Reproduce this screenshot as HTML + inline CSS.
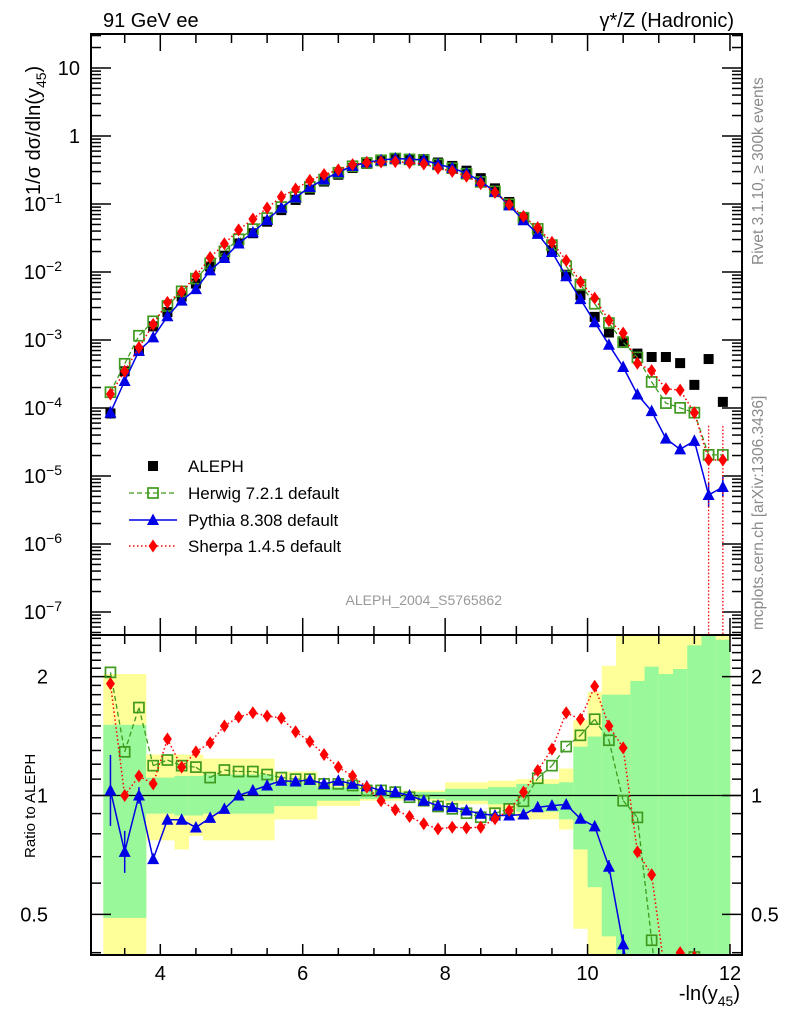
<!DOCTYPE html>
<html><head><meta charset="utf-8"><style>
html,body{margin:0;padding:0;background:#fff;width:786px;height:1024px;overflow:hidden;}
svg{display:block;font-family:"Liberation Sans",Arial,sans-serif;}
</style></head>
<body>
<svg id="chart" width="786" height="1024" viewBox="0 0 786 1024" xmlns="http://www.w3.org/2000/svg" overflow="hidden">
<defs>
<clipPath id="clipMain"><rect x="91" y="34" width="651" height="601"/></clipPath>
<clipPath id="clipRatio"><rect x="91" y="635" width="651" height="320"/></clipPath>
</defs>
<g id="bands" clip-path="url(#clipRatio)"></g>
<g id="ticks"></g>
<line x1="91" y1="795.5" x2="742" y2="795.5" stroke="#000" stroke-width="1.2"/>
<g id="mainSeries" clip-path="url(#clipMain)"></g>
<g id="ratioSeries" clip-path="url(#clipRatio)"></g>
<rect x="91" y="34" width="651" height="601" fill="none" stroke="#000" stroke-width="2"/>
<rect x="91" y="635" width="651" height="320" fill="none" stroke="#000" stroke-width="2"/>
<g id="labels" font-size="20"></g>
<text x="103" y="27" font-size="20">91 GeV ee</text>
<text x="734" y="27" font-size="20" text-anchor="end">γ*/Z (Hadronic)</text>
<text transform="translate(40,195) rotate(-90)" font-size="20">1/σ  dσ/dln(y<tspan font-size="14" dy="6">45</tspan><tspan dy="-6">)</tspan></text>
<text transform="translate(35,858) rotate(-90)" font-size="15">Ratio to ALEPH</text>
<text x="740" y="1000" font-size="20" text-anchor="end">-ln(y<tspan font-size="14" dy="6">45</tspan><tspan dy="-6">)</tspan></text>
<text transform="translate(763,265) rotate(-90)" font-size="15.5" fill="#8a8a8a">Rivet 3.1.10, ≥ 300k events</text>
<text transform="translate(763,630) rotate(-90)" font-size="15.5" fill="#8a8a8a">mcplots.cern.ch [arXiv:1306.3436]</text>
<text x="502" y="605" font-size="14" fill="#999" text-anchor="end">ALEPH_2004_S5765862</text>
<g id="legend" font-size="17"></g>
</svg>
<script>
const xCenters = [3.3,3.5,3.7,3.9,4.1,4.3,4.5,4.7,4.9,5.1,5.3,5.5,5.7,5.9,6.1,6.3,6.5,6.7,6.9,7.1,7.3,7.5,7.7,7.9,8.1,8.3,8.5,8.7,8.9,9.1,9.3,9.5,9.7,9.9,10.1,10.3,10.5,10.7,10.9,11.1,11.3,11.5,11.7,11.9];
const alephLog10 = [-4.08,-3.46,-3.16,-2.80,-2.59,-2.36,-2.17,-1.92,-1.76,-1.58,-1.43,-1.26,-1.09,-0.94,-0.79,-0.67,-0.57,-0.47,-0.41,-0.37,-0.34,-0.34,-0.34,-0.39,-0.44,-0.51,-0.62,-0.77,-0.97,-1.19,-1.41,-1.68,-2.04,-2.34,-2.66,-2.89,-3.02,-3.20,-3.25,-3.25,-3.34,-3.66,-3.28,-3.91];
const herwigRatio = [2.05,1.29,1.67,1.19,1.23,1.19,1.18,1.11,1.16,1.15,1.15,1.13,1.11,1.10,1.10,1.07,1.07,1.06,1.03,1.03,1.02,0.99,0.97,0.938,0.925,0.902,0.881,0.902,0.925,0.967,1.106,1.19,1.33,1.42,1.56,1.38,0.97,0.88,0.43,0.21,0.22,0.39,0.039,0.166];
const pythiaRatio = [1.03,0.72,1.0,0.69,0.868,0.868,0.83,0.878,0.925,1.0,1.03,1.06,1.09,1.085,1.095,1.07,1.09,1.07,1.055,1.03,1.02,1.0,0.97,0.943,0.934,0.916,0.899,0.89,0.89,0.895,0.934,0.943,0.949,0.873,0.835,0.66,0.42,0.25,0.16,0.063,0.054,0.15,0.01,0.056];
const sherpaRatio = [1.92,1.0,1.12,1.07,1.39,1.18,1.29,1.36,1.50,1.58,1.62,1.59,1.57,1.45,1.37,1.27,1.18,1.12,1.05,0.97,0.92,0.885,0.848,0.823,0.831,0.828,0.831,0.873,0.916,1.02,1.157,1.31,1.62,1.56,1.89,1.50,1.32,0.72,0.63,0.34,0.40,0.39,0.033,0.14];
const pythiaErrFactor = [1.23,1.13,1.05,1.03,1.02,1.02,1.02,1.02,1.02,1.02,1.02,1.02,1.02,1.02,1.02,1.02,1.02,1.02,1.02,1.02,1.02,1.02,1.02,1.02,1.02,1.02,1.02,1.02,1.02,1.02,1.02,1.02,1.02,1.02,1.03,1.04,1.06,1.08,1.1,1.12,1.15,1.2,1.5,1.4];
const sherpaErrTail = [11.7,11.9];
const bandEdges = [3.2,3.8,4.2,4.4,4.6,5.6,6.2,6.8,8.0,8.6,9.0,9.6,9.8,10.0,10.2,10.4,10.6,10.8,11.0,11.2,11.4,11.6,11.8,12.0];
const yellowHi = [2.03,1.27,1.27,1.27,1.24,1.15,1.08,1.03,1.08,1.09,1.10,1.17,1.55,1.83,2.13,3,3,3,3,3,3,3,3];
const greenHi = [1.51,1.11,1.12,1.12,1.13,1.08,1.05,1.02,1.04,1.05,1.07,1.08,1.33,1.41,1.80,1.80,1.95,2.12,2.03,2.09,2.4,3,2.48];
const greenLo = [0.49,0.90,0.89,0.89,0.90,0.94,0.97,0.98,0.97,0.95,0.91,0.87,0.73,0.586,0.44,0.3,0.3,0.3,0.3,0.3,0.3,0.3,0.3];
const yellowLo = [0.3,0.77,0.73,0.79,0.77,0.87,0.94,0.97,0.95,0.92,0.87,0.82,0.46,0.3,0.3,0.3,0.3,0.3,0.3,0.3,0.3,0.3,0.3];
const mainTickLabels = ["10","1","10","10","10","10","10","10","10"];
const mainTickExps = [null,null,"−1","−2","−3","−4","−5","−6","−7"];
const ratioTickLabels = ["2","1","0.5"];
const ratioTickValues = [2,1,0.5];
const xTickLabels = ["4","6","8","10","12"];
const xTickValues = [4,6,8,10,12];

const NS = "http://www.w3.org/2000/svg";
function X(x){return 160.3 + (x-4)*71.21;}
function YM(lg){return 136 - 68*lg;}
function YR(r){return 795.5 - 395*Math.log10(r);}
// clamp an off-panel segment endpoint onto a line slightly below the ratio frame (keeps in-frame geometry exact)
function clipSeg(p,q,limit){
  if(q[1]<=limit) return q;
  if(p[1]>=limit) return [q[0],limit];
  const t=(limit-p[1])/(q[1]-p[1]);
  return [p[0]+t*(q[0]-p[0]),limit];
}
function mk(tag, attrs, parent){const e=document.createElementNS(NS,tag);for(const k in attrs)e.setAttribute(k,attrs[k]);parent.appendChild(e);return e;}

const bandsG=document.getElementById('bands');
for(let i=0;i<yellowHi.length;i++){
  const x0=X(bandEdges[i]), x1=X(bandEdges[i+1]);
  const y=mk('rect',{x:x0,y:YR(yellowHi[i]),width:x1-x0+0.3,height:YR(yellowLo[i])-YR(yellowHi[i]),fill:'#ffff99'},bandsG);
  
  
  const g=mk('rect',{x:x0,y:YR(greenHi[i]),width:x1-x0+0.3,height:YR(greenLo[i])-YR(greenHi[i]),fill:'#99f899'},bandsG);
  
  
}

const tg=document.getElementById('ticks');
function tl(x1,y1,x2,y2){const l=mk('line',{x1,y1,x2,y2,stroke:'#000','stroke-width':1.5},tg);}
for(let v=3.5;v<=12.01;v+=0.5){
  const px=X(v), maj=Math.abs(v/2-Math.round(v/2))<1e-6;
  const L=maj?17:9;
  tl(px,34,px,34+L); tl(px,635,px,635-L); tl(px,635,px,635+L); tl(px,955,px,955-(maj?11:7));
}
for(let d=1;d>=-8;d--){
  for(let m=1;m<10;m++){
    const lg=d+Math.log10(m); const py=YM(lg);
    if(py<35||py>634)continue;
    const L=m===1?20:10;
    tl(91,py,91+L,py); tl(742,py,742-L,py);
  }
}
for(let r=0.4;r<2.55;r+=0.1){
  const rr=Math.round(r*10)/10; const py=YR(rr);
  if(py<636||py>954)continue;
  const maj=(rr===0.5||rr===1||rr===2); const L=maj?20:10;
  tl(91,py,91+L,py); tl(742,py,742-L,py);
}

const lab=document.getElementById('labels');
for(let i=0;i<mainTickLabels.length;i++){
  const py=YM(1-i)+7;
  const t=mk('text',{x:80,y:py,'text-anchor':'end','font-size':20},lab);
  
  
  t.textContent=mainTickLabels[i];
  if(mainTickExps[i]){t.setAttribute('x',62);const s=mk('tspan',{'font-size':14,dy:-8},t);s.textContent=mainTickExps[i];}
}
for(let i=0;i<ratioTickLabels.length;i++){
  const py=YR(ratioTickValues[i])+7;
  const a=mk('text',{x:48,y:py,'text-anchor':'end','font-size':20},lab);
  
  
  a.textContent=ratioTickLabels[i];
  const b=mk('text',{x:751,y:py,'font-size':20},lab);
  
  
  b.textContent=ratioTickLabels[i];
}
for(let i=0;i<xTickLabels.length;i++){
  const t=mk('text',{x:X(xTickValues[i]),y:980,'text-anchor':'middle','font-size':20},lab);
  
  
  t.textContent=xTickLabels[i];
}

function marker(kind,cx,cy,parent){
  let e;
  if(kind==='sq') e=mk('rect',{x:cx-5,y:cy-5,width:10,height:10,fill:'#000'},parent);
  else if(kind==='osq') e=mk('rect',{x:cx-5,y:cy-5,width:10,height:10,fill:'none',stroke:'#3f9a1f','stroke-width':1.7},parent);
  else if(kind==='tri') e=mk('polygon',{points:`${cx},${cy-6.5} ${cx+6},${cy+5} ${cx-6},${cy+5}`,fill:'#0000e6'},parent);
  else e=mk('polygon',{points:`${cx},${cy-6.5} ${cx+4.5},${cy} ${cx},${cy+6.5} ${cx-4.5},${cy}`,fill:'#ff0000'},parent);
  return e;
}
const styles={
  herwig:{kind:'osq',stroke:'#3f9a1f',dash:'5,3',w:1.3},
  pythia:{kind:'tri',stroke:'#0000e6',dash:'',w:1.5},
  sherpa:{kind:'diam',stroke:'#ff0000',dash:'1.5,2.5',w:1.5}
};
const mainG=document.getElementById('mainSeries');
const ratioG=document.getElementById('ratioSeries');
for(let i=0;i<xCenters.length;i++){
  const m=marker('sq',X(xCenters[i]),YM(alephLog10[i]),mainG);
  
  
}
for(let i=0;i<xCenters.length;i++){
  const f=pythiaErrFactor[i]; if(f<1.04)continue;
  const px=X(xCenters[i]); const lgv=alephLog10[i]+Math.log10(pythiaRatio[i]);
  const e1=mk('line',{x1:px,x2:px,y1:YM(lgv+Math.log10(f)),y2:YM(lgv-Math.log10(f)),stroke:'#0000e6','stroke-width':1.5},mainG);
  
  
  const ry1=YR(pythiaRatio[i]*f), ry2=YR(pythiaRatio[i]/f);
  if(ry1<960){
    const e2=mk('line',{x1:px,x2:px,y1:ry1,y2:Math.min(ry2,960),stroke:'#0000e6','stroke-width':1.5},ratioG);
    
    
  }
}
for(let k=0;k<sherpaErrTail.length;k++){
  const i=xCenters.indexOf(sherpaErrTail[k]); const px=X(sherpaErrTail[k]);
  const lgv=alephLog10[i]+Math.log10(sherpaRatio[i]);
  const e=mk('line',{x1:px,x2:px,y1:YM(lgv+0.5),y2:640,stroke:'#ff0000','stroke-width':1.3,'stroke-dasharray':'1.5,2'},mainG);
  
  
}
function drawSeries(name,ratios){
  const st=styles[name];
  const ptsM=xCenters.map((x,i)=>[X(x),YM(alephLog10[i]+Math.log10(ratios[i]))]);
  const ptsR=xCenters.map((x,i)=>[X(x),YR(ratios[i])]);
  const lm=mk('polyline',{points:ptsM.map(p=>p.join(',')).join(' '),fill:'none',stroke:st.stroke,'stroke-width':st.w,'stroke-dasharray':st.dash},mainG);
  
  
  // ratio line: split into segments, trimming parts far below the panel
  let d='';
  for(let i=0;i<ptsR.length-1;i++){
    const p=ptsR[i], q=ptsR[i+1], lim=965;
    if(p[1]>lim && q[1]>lim) continue;
    const a=clipSeg(q,p,lim), b=clipSeg(p,q,lim);
    d+=`M${a[0]},${a[1]}L${b[0]},${b[1]}`;
  }
  const lr=mk('path',{d:d,fill:'none',stroke:st.stroke,'stroke-width':st.w,'stroke-dasharray':st.dash},ratioG);
  
  
  ptsM.forEach(p=>{const e=marker(st.kind,p[0],p[1],mainG);});
  ptsR.forEach(p=>{if(p[1]>970)return;const e=marker(st.kind,p[0],p[1],ratioG);});
}
drawSeries('herwig',herwigRatio);
drawSeries('pythia',pythiaRatio);
drawSeries('sherpa',sherpaRatio);

const lg=document.getElementById('legend');
const legendNames=['ALEPH','Herwig 7.2.1 default','Pythia 8.308 default','Sherpa 1.4.5 default'];
const legendKinds=['sq','osq','tri','diam'];
const legendKeys=[null,'herwig','pythia','sherpa'];
const legendY=[466,493,520,546];
for(let i=0;i<4;i++){
  const row=mk('g',{},lg);
  
  
  if(legendKeys[i]){const st=styles[legendKeys[i]];mk('line',{x1:129,y1:legendY[i],x2:177,y2:legendY[i],stroke:st.stroke,'stroke-width':st.w,'stroke-dasharray':st.dash},row);}
  if(i===0) mk('rect',{x:148,y:legendY[i]-5,width:10,height:10,fill:'#000'},row);
  else marker(legendKinds[i],153,legendY[i],row);
  const t=mk('text',{x:188,y:legendY[i]+6,'font-size':17},row);
  t.textContent=legendNames[i];
}
</script>
</body></html>
